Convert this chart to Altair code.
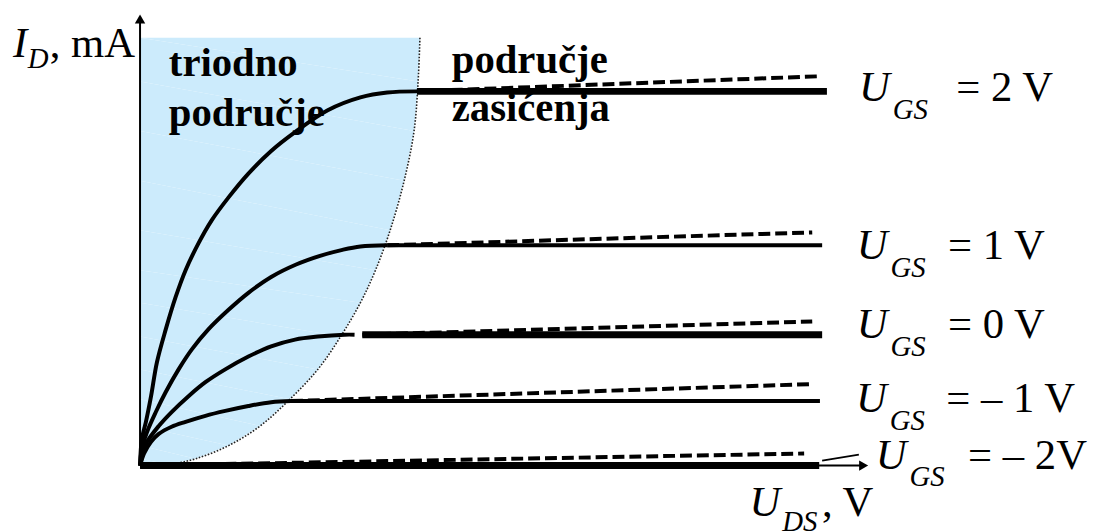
import altair as alt
import pandas as pd

# ---------------- data (arbitrary units) ----------------
curve_names = ["2 V", "1 V", "0 V", "– 1 V", "– 2V"]

# triode-region curves (U_DS, I_D)
tri_2_x = [0, 0.05, 0.16, 0.30, 0.46, 0.70, 0.97, 1.24, 1.59, 1.95, 2.41, 2.95, 3.57, 4.22, 5.11, 6.00, 6.73, 7.54]
tri_2_y = [0, 0.71, 1.16, 1.84, 2.74, 3.61, 4.47, 5.18, 5.89, 6.50, 7.11, 7.74, 8.34, 8.84, 9.42, 9.76, 9.89, 9.92]
tri_1_x = [0, 0.05, 0.19, 0.43, 0.70, 1.05, 1.41, 1.86, 2.41, 2.95, 3.57, 4.25, 4.90, 5.51, 6.00, 6.73]
tri_1_y = [0, 0.45, 0.89, 1.42, 1.95, 2.55, 3.08, 3.61, 4.13, 4.58, 5.00, 5.33, 5.56, 5.72, 5.81, 5.84]
tri_0_x = [0, 0.08, 0.16, 0.51, 0.86, 1.32, 1.78, 2.32, 2.95, 3.57, 4.22, 4.84, 5.57, 5.84]
tri_0_y = [0, 0.32, 0.58, 1.05, 1.42, 1.84, 2.21, 2.55, 2.89, 3.16, 3.34, 3.42, 3.47, 3.47]
tri_m1_x = [0, 0.11, 0.30, 0.51, 0.86, 1.24, 1.78, 2.32, 2.95, 3.57, 4.11]
tri_m1_y = [0, 0.32, 0.63, 0.84, 1.03, 1.16, 1.32, 1.45, 1.58, 1.68, 1.71]

# saturation (flat) segments
sat_start = [7.54, 6.73, 6.05, 4.11, 0.0]
sat_end = [18.70, 18.57, 18.57, 18.51, 18.49]
sat_level = [9.92, 5.84, 3.47, 1.71, 0.0]

# dashed (channel-length modulation) segments
dash_start = [7.54, 6.73, 6.05, 4.11, 0.0]
dash_end_x = [18.49, 18.30, 18.30, 18.27, 18.08]
dash_end_y = [10.32, 6.18, 3.82, 2.16, 0.32]

# border of triode region
bnd_x = [0.24, 0.78, 1.51, 2.41, 3.27, 4.08, 4.84, 5.46, 6.00, 6.41, 6.81, 7.19, 7.46, 7.57, 7.62]
bnd_y = [0.00, 0.03, 0.18, 0.53, 1.05, 1.76, 2.55, 3.42, 4.32, 5.18, 6.24, 7.55, 8.87, 10.18, 11.34]

# label anchors (U_GS labels)
ugs_label_x = [19.57, 19.51, 19.51, 19.49, 20.03]
ugs_label_base = [9.66, 5.47, 3.39, 1.42, -0.08]
ugs_label_text = ["= 2 V", "= 1 V", "= 0 V", "= – 1 V", "= – 2V"]
ugs_eq_shift = [98, 92, 92, 91, 93]  # px from U to "="

# region names
region_text = ["triodno", "područje", "područje", "zasićenja"]

X_PX, Y_PX = 37.0, 38.0  # pixels per data unit

# ---------------- build tables ----------------
rows = []
for name, xs_, ys_ in zip(curve_names[:4], [tri_2_x, tri_1_x, tri_0_x, tri_m1_x],
                          [tri_2_y, tri_1_y, tri_0_y, tri_m1_y]):
    for i, (a, b) in enumerate(zip(xs_, ys_)):
        rows.append({"curve": name, "x": a, "y": b, "i": i})
tri_df = pd.DataFrame(rows)

sat_df = pd.DataFrame({"curve": curve_names, "x": sat_start, "y": sat_level,
                       "x2": sat_end, "y2": sat_level})
dash_df = pd.DataFrame({"curve": curve_names, "x": dash_start, "y": sat_level,
                        "x2": dash_end_x, "y2": dash_end_y})
bnd_df = pd.DataFrame({"x": bnd_x, "y": bnd_y, "i": list(range(len(bnd_x)))})

axes_df = pd.DataFrame({"x": [0, 0], "y": [0, 0], "x2": [19.6, 0], "y2": [0, 11.8]})
arrow_up = pd.DataFrame({"x": [0], "y": [11.84]})
arrow_right = pd.DataFrame({"x": [19.70], "y": [0.0]})
leader_df = pd.DataFrame({"x": [18.57], "y": [0.13], "x2": [19.57], "y2": [0.29]})

txt = []
for lx, lb, t, sh in zip(ugs_label_x, ugs_label_base, ugs_label_text, ugs_eq_shift):
    txt.append({"x": lx, "y": lb, "t": "U", "role": "big_it"})
    txt.append({"x": lx + 34 / X_PX, "y": lb - 18 / Y_PX, "t": "GS", "role": "sub_it"})
    txt.append({"x": lx + sh / X_PX, "y": lb, "t": t, "role": "big"})
# axis titles
txt += [
    {"x": -128 / X_PX, "y": 412 / Y_PX, "t": "I", "role": "big_it"},
    {"x": -113 / X_PX, "y": 401 / Y_PX, "t": "D", "role": "sub_it"},
    {"x": -91 / X_PX, "y": 412 / Y_PX, "t": ", mA", "role": "big"},
    {"x": 614 / X_PX, "y": -51 / Y_PX, "t": "U", "role": "big_it"},
    {"x": 647 / X_PX, "y": -66 / Y_PX, "t": "DS", "role": "sub_it"},
    {"x": 687 / X_PX, "y": -51 / Y_PX, "t": ", V", "role": "big"},
]
# region names (bold)
for (px, py), t in zip([(29, 392), (29, 342), (314, 395), (314, 347)], region_text):
    txt.append({"x": px / X_PX, "y": py / Y_PX, "t": t, "role": "bold"})
text_df = pd.DataFrame(txt)

# ---------------- chart ----------------
xs = alt.Scale(domain=[0, 20], nice=False, zero=False)
ys = alt.Scale(domain=[0, 12], nice=False, zero=False)
X = lambda f="x": alt.X(f, type="quantitative", scale=xs, axis=None)
Y = lambda f="y": alt.Y(f, type="quantitative", scale=ys, axis=None)

SERIF = "Liberation Serif"

area = alt.Chart(bnd_df).mark_area(orient="horizontal", color="#CCEBFC", clip=False).encode(
    x=X(), y=Y(), order="i:O")
border = alt.Chart(bnd_df).mark_line(color="#222222", strokeWidth=1.6, strokeDash=[1.6, 1.6],
                                     interpolate="catmull-rom").encode(
    x=X(), y=Y(), order="i:O")

triode = alt.Chart(tri_df).mark_line(color="black", strokeWidth=4, interpolate="catmull-rom").encode(
    x=X(), y=Y(), detail="curve:N", order="i:O")

dashed = alt.Chart(dash_df).mark_rule(color="black", strokeWidth=4, strokeDash=[12, 5]).encode(
    x=X(), y=Y(), x2="x2", y2="y2")

sat_thick = alt.Chart(sat_df).transform_filter(
    alt.FieldOneOfPredicate(field="curve", oneOf=["2 V", "0 V", "– 2V"])
).mark_rule(color="black", strokeWidth=7).encode(x=X(), y=Y(), x2="x2", y2="y2")
sat_thin = alt.Chart(sat_df).transform_filter(
    alt.FieldOneOfPredicate(field="curve", oneOf=["1 V", "– 1 V"])
).mark_rule(color="black", strokeWidth=4).encode(x=X(), y=Y(), x2="x2", y2="y2")

axes = alt.Chart(axes_df).mark_rule(color="black", strokeWidth=2).encode(
    x=X(), y=Y(), x2="x2", y2="y2")
leader = alt.Chart(leader_df).mark_rule(color="black", strokeWidth=1.8).encode(
    x=X(), y=Y(), x2="x2", y2="y2")
arr_up = alt.Chart(arrow_up).mark_point(shape="triangle-up", filled=True, size=110,
                                        color="black", opacity=1).encode(x=X(), y=Y())
arr_right = alt.Chart(arrow_right).mark_point(shape="triangle-right", filled=True, size=110,
                                              color="black", opacity=1).encode(x=X(), y=Y())

def text_layer(role, **kw):
    return alt.Chart(text_df).transform_filter(alt.datum.role == role).mark_text(
        font=SERIF, align="left", baseline="alphabetic", color="black", **kw
    ).encode(x=X(), y=Y(), text="t:N")

regions = text_layer("bold", fontSize=41, fontWeight="bold")
t_big_it = text_layer("big_it", fontSize=43, fontStyle="italic")
t_sub_it = text_layer("sub_it", fontSize=29, fontStyle="italic")
t_big = text_layer("big", fontSize=43)

chart = alt.layer(
    area, border, regions, triode, dashed, sat_thin, sat_thick, axes, leader,
    arr_up, arr_right, t_big_it, t_sub_it, t_big
).properties(
    width=740, height=456,
    padding={"left": 133, "top": 3, "right": 231, "bottom": 72},
    autosize=alt.AutoSizeParams(type="none"),
    background="white",
).configure_view(stroke=None)

chart.save("out.html", embed_options={"renderer": "svg", "actions": False})
